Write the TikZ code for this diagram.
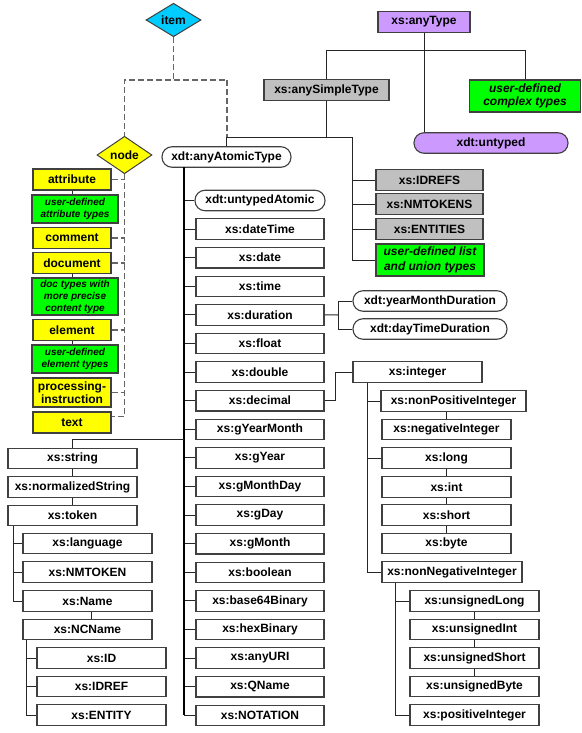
\documentclass[tikz,border=0pt]{standalone}
\usepackage{fontspec}
\setmainfont{Liberation Sans}
\usetikzlibrary{shapes.geometric,calc}
\definecolor{cyanI}{HTML}{00CCFF}
\definecolor{yelI}{HTML}{FFFF00}
\definecolor{grnI}{HTML}{00FF00}
\definecolor{purI}{HTML}{CC99FF}
\definecolor{gryI}{HTML}{C0C0C0}
\definecolor{bord}{HTML}{404040}
\tikzset{
 bx/.style={draw=bord, line width=1.1pt, rectangle, inner sep=0pt, align=center, font=\bfseries\fontsize{12}{14}\selectfont, minimum height=20.5pt, fill=white},
 wb/.style={bx, minimum width=129pt},
 stad/.style={bx, rounded corners=10pt},
 udef/.style={bx, fill=grnI, font=\bfseries\itshape\fontsize{12}{15}\selectfont},
 udefs/.style={bx, fill=grnI, font=\bfseries\itshape\fontsize{10}{11.8}\selectfont, minimum width=86pt},
 yb/.style={bx, fill=yelI, minimum width=78pt},
 diam/.style={diamond, draw=bord, line width=1pt, inner sep=0pt, minimum width=55pt, minimum height=31pt, font=\bfseries\fontsize{12}{14}\selectfont},
 ln/.style={draw=black!85, line width=1pt},
 trunk/.style={draw=black, line width=1.6pt},
 dsh/.style={draw=black!60, line width=1.2pt, dash pattern=on 6pt off 3pt},
}
\begin{document}
\begin{tikzpicture}[x=1pt,y=-1pt]
\useasboundingbox (0,0) rectangle (581,733);
% top
\node[diam, fill=cyanI] (item) at (173.5,20) {item};
\node[diam, fill=yelI] (nodeD) at (124.5,155) {node};
\node[bx, fill=purI, minimum width=92pt] (anyT) at (424,22) {xs:anyType};
\node[bx, fill=gryI, minimum width=125pt] (aST) at (326.5,90) {xs:anySimpleType};
\node[udef, minimum width=111pt, minimum height=32pt, font=\bfseries\itshape\fontsize{12}{13.5}\selectfont] (udc) at (525,96) {user-defined\\complex types};
\node[stad, fill=purI, minimum width=154pt] (unt) at (491,143) {xdt:untyped};
\node[stad, minimum width=129pt] (aat) at (226.5,157) {xdt:anyAtomicType};
% list types
\node[bx, fill=gryI, minimum width=107pt] (idrefs) at (429.5,180) {xs:IDREFS};
\node[bx, fill=gryI, minimum width=107pt] (nmtokens) at (429.5,204) {xs:NMTOKENS};
\node[bx, fill=gryI, minimum width=107pt] (entities) at (429.5,229) {xs:ENTITIES};
\node[udef, minimum width=108pt, minimum height=32pt] (udl) at (430,260) {user-defined list\\and union types};
% left node kinds
\node[yb, minimum height=21pt] (attribute) at (72,179.5) {attribute};
\node[udefs, minimum height=28pt] (uda) at (75,209) {user-defined\\attribute types};
\node[yb] (comment) at (72,238) {comment};
\node[yb] (document) at (72,263) {document};
\node[udefs, minimum height=37pt, font=\bfseries\itshape\fontsize{10}{12}\selectfont] (doct) at (75,296.5) {doc types with\\more precise\\content type};
\node[yb] (element) at (72,330) {element};
\node[udefs, minimum height=28pt] (ude) at (75,359) {user-defined\\element types};
\node[yb, minimum height=29pt, font=\bfseries\fontsize{12}{13.3}\selectfont] (pi) at (72,392.5) {processing-\\instruction};
\node[yb, minimum height=21pt] (textN) at (72,422.5) {text};
% dashed connectors
\coordinate (j1) at (173.5,80);
\coordinate (hA) at (227,137);
\coordinate (hB) at (352,137);
\draw[dsh] (item.south) -- (j1) -| (nodeD.north);
\draw[dsh] (j1) -| (hA);
\draw[dsh] (nodeD.south) |- ([yshift=6pt]textN.east);
\foreach \k in {attribute,comment,document,element,pi}
  \draw[dsh] (\k.east) -- (\k.east -| nodeD.south);
\draw[ln] (attribute.south) -- (attribute.south |- uda.north);
\draw[ln] (document.south) -- (document.south |- doct.north);
\draw[ln] (element.south) -- (element.south |- ude.north);
% anyType connectors
\draw[ln] (anyT.south) -- (anyT.south |- unt.north);
\draw[ln] (aST.north) -- ++(0,-29) -| (udc.north);
\draw[ln] (aST.south) -- (aST.south |- hB);
\draw[ln] (aat.north) |- (hB) |- (udl.west);
\foreach \k in {idrefs,nmtokens,entities}
  \draw[ln] (hB |- \k.west) -- (\k.west);
% atomic column
\coordinate (trA) at (184,167);
\node[stad, minimum width=130pt] (uatom) at (260,200.5) {xdt:untypedAtomic};
\draw[ln] (trA |- uatom.west) -- (uatom.west);
\foreach \n/\t [count=\i] in {dateTime/xs:dateTime, date/xs:date, time/xs:time, duration/xs:duration, float/xs:float, double/xs:double, decimal/xs:decimal, gYearMonth/xs:gYearMonth, gYear/xs:gYear, gMonthDay/xs:gMonthDay, gDay/xs:gDay, gMonth/xs:gMonth, boolean/xs:boolean, base64/xs:base64Binary, hexBin/xs:hexBinary, anyURI/xs:anyURI, QName/xs:QName, NOTATION/xs:NOTATION}{
  \node[wb, minimum width=128pt] (\n) at (260,{200.5+28.6*\i}) {\t};
  \draw[ln] (trA |- \n.west) -- (\n.west);
}
\draw[trunk] (trA) -- (trA |- NOTATION.west);
% durations
\node[stad, minimum width=154pt] (ymd) at (430,301) {xdt:yearMonthDuration};
\node[stad, minimum width=154pt] (dtd) at (430,329) {xdt:dayTimeDuration};
\coordinate (dj) at (338,315);
\draw[ln] (duration.east) -- (dj);
\draw[ln] (ymd.west) -| (dj |- dtd.west) -- (dtd.west);
% integers
\node[wb] (integer) at (417.5,372) {xs:integer};
\node[wb, minimum width=145pt] (nonpos) at (453.5,401) {xs:nonPositiveInteger};
\node[wb] (negint) at (446.5,429.5) {xs:negativeInteger};
\node[wb] (long) at (446.5,458) {xs:long};
\node[wb] (int) at (446.5,487) {xs:int};
\node[wb] (short) at (446.5,515) {xs:short};
\node[wb] (byte) at (446.5,543.5) {xs:byte};
\node[wb, minimum width=140pt] (nonneg) at (452,572) {xs:nonNegativeInteger};
\node[wb] (ulong) at (474.5,601) {xs:unsignedLong};
\node[wb] (uint) at (474.5,629.5) {xs:unsignedInt};
\node[wb] (ushort) at (474.5,658) {xs:unsignedShort};
\node[wb] (ubyte) at (474.5,686.5) {xs:unsignedByte};
\node[wb] (posint) at (474.5,715) {xs:positiveInteger};
\draw[ln] (decimal.east) -- ++(11,0) |- (integer.west);
\coordinate (trI) at ([xshift=15pt]integer.south west);
\draw[ln] (trI) |- (nonneg.west);
\draw[ln] (trI |- nonpos.west) -- (nonpos.west);
\draw[ln] (trI |- long.west) -- (long.west);
\draw[ln] (negint.north) -- (negint.north |- nonpos.south);
\draw[ln] (long.south) -- (int.north);
\draw[ln] (int.south) -- (short.north);
\draw[ln] (short.south) -- (byte.north);
\coordinate (trN) at ([xshift=14pt]nonneg.south west);
\draw[ln] (trN) |- (posint.west);
\draw[ln] (trN |- ulong.west) -- (ulong.west);
\draw[ln] (ulong.south) -- (uint.north);
\draw[ln] (uint.south) -- (ushort.north);
\draw[ln] (ushort.south) -- (ubyte.north);
% strings
\node[wb] (string) at (72.5,458.5) {xs:string};
\node[wb] (normstr) at (72.5,487) {xs:normalizedString};
\node[wb] (token) at (72.5,515.5) {xs:token};
\node[wb] (language) at (87.5,543.5) {xs:language};
\node[wb] (nmtoken) at (87.5,572) {xs:NMTOKEN};
\node[wb] (name) at (87.5,601) {xs:Name};
\node[wb] (ncname) at (87.5,629.5) {xs:NCName};
\node[wb] (id) at (101.5,658) {xs:ID};
\node[wb] (idref) at (101.5,686.5) {xs:IDREF};
\node[wb] (entity) at (101.5,715) {xs:ENTITY};
\coordinate (sj) at (184,439);
\draw[ln] (sj) -| (string.north);
\draw[ln] (string.south) -- (normstr.north);
\draw[ln] (normstr.south) -- (token.north);
\coordinate (trT) at ([xshift=6pt]token.south west);
\draw[ln] (trT) |- (name.west);
\draw[ln] (trT |- language.west) -- (language.west);
\draw[ln] (trT |- nmtoken.west) -- (nmtoken.west);
\draw[ln] ([xshift=4pt]name.south) -- ([xshift=4pt]ncname.north);
\coordinate (trC) at ([xshift=4pt]ncname.south west);
\draw[ln] (trC) |- (entity.west);
\draw[ln] (trC |- id.west) -- (id.west);
\draw[ln] (trC |- idref.west) -- (idref.west);
\end{tikzpicture}
\end{document}
